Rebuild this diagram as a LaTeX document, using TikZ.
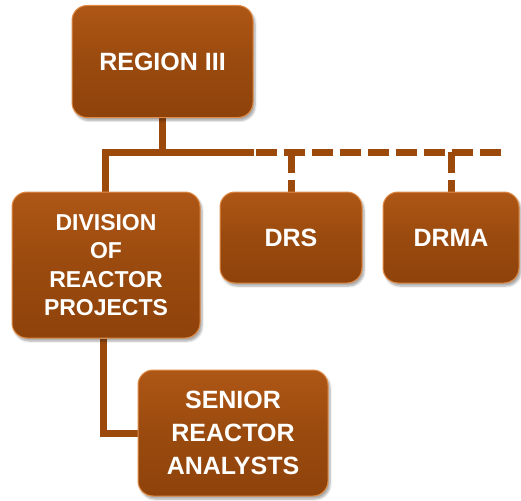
\documentclass[tikz,border=0pt]{standalone}
\usepackage{fontspec}
\setmainfont{Liberation Sans}
\usetikzlibrary{shadows.blur}
\pgfdeclarelayer{background}
\pgfsetlayers{background,main}
\definecolor{boxmid}{HTML}{9A4A0E}
\definecolor{boxtop}{HTML}{AE5716}
\definecolor{boxbot}{HTML}{8E430B}
\definecolor{boxrim}{HTML}{E08C48}
\definecolor{linec}{HTML}{9C4A0C}
\tikzset{
  orgbox/.style={rectangle, rounded corners=15pt, top color=boxtop, bottom color=boxbot,
    middle color=boxmid, draw=boxrim, line width=1pt, text=white, align=center,
    font=\bfseries\fontsize{25}{33}\selectfont, inner sep=0pt,
    blur shadow={shadow xshift=2pt, shadow yshift=-3pt, shadow opacity=35, shadow blur steps=6}},
  conn/.style={draw=linec, line width=7pt},
  dconn/.style={conn, dash pattern=on 21pt off 7pt}
}
\begin{document}
\begin{tikzpicture}[x=1pt,y=-1pt]
\useasboundingbox (0,0) rectangle (521,500);
\coordinate (hl) at (105,152);
\coordinate (hm) at (162.5,152);
\coordinate (hs) at (250,152);
\coordinate (hd) at (256,152);
\coordinate (he) at (505,152);
\coordinate (lx) at (103,0);
\node[orgbox, minimum width=181pt, minimum height=112pt] (region) at (162.5,61.5) {REGION III};
\node[orgbox, minimum width=188pt, minimum height=146pt, font=\bfseries\fontsize{23}{28.5}\selectfont] (div) at (106,265) {DIVISION\\OF\\REACTOR\\PROJECTS};
\node[orgbox, minimum width=142pt, minimum height=91pt] (drs) at (291,237.5) {DRS};
\node[orgbox, minimum width=136pt, minimum height=91pt] (drma) at (451,237.5) {DRMA};
\node[orgbox, minimum width=190pt, minimum height=126pt] (senior) at (233,433) {SENIOR\\REACTOR\\ANALYSTS};
\begin{pgfonlayer}{background}
\draw[conn] (region.south) -- (hm);
\draw[conn, line cap=rect] (hl) -- (hs);
\draw[dconn] (hd) -- (he);
\draw[conn] (hl) -- (div.north -| hl);
\draw[dconn] (drs.north |- hl) -- (drs.north);
\draw[dconn] (drma.north |- hl) -- (drma.north);
\draw[conn] (div.south -| lx) |- (senior.west);
\end{pgfonlayer}
\end{tikzpicture}
\end{document}
